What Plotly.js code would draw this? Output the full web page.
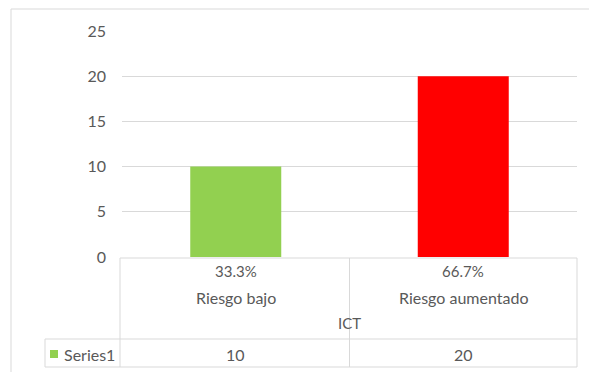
<!DOCTYPE html>
<html>
<head>
<meta charset="utf-8">
<script src="https://cdn.plot.ly/plotly-3.0.1.min.js"></script>
<style>html,body{margin:0;padding:0;background:#fff}#chart{width:589px;height:372px}</style>
</head>
<body>
<div id="chart"></div>
<script>
// ---- data ----
const categories = ['Riesgo bajo', 'Riesgo aumentado'];
const values = [10, 20];
const pctLabels = ['33.3%', '66.7%'];
const seriesName = 'Series1';
const axisTitle = 'ICT';
const yTicks = [0, 5, 10, 15, 20, 25];
const barColors = ['#92d050', '#ff0000'];

// ---- layout geometry (pixels) ----
const W = 589, H = 372;
const L = 122, R = 577, T = 31, B = 257;
const pw = R - L, ph = B - T;
const px = x => (x - L) / pw;
const py = y => (B - y) / ph;
const grey = '#d9d9d9';
const txt = '#595959';
const font = 'Lato, "Open Sans", sans-serif';

const xs = categories.map((c, i) => i);

const trace = {
  type: 'bar',
  x: xs,
  y: values,
  name: seriesName,
  marker: {color: barColors, line: {width: 0}},
  width: 0.4,
  hoverinfo: 'none'
};

const shapes = [];
const line = (x0, y0, x1, y1) => shapes.push({type: 'line', xref: 'paper', yref: 'paper',
  x0: px(x0), y0: py(y0), x1: px(x1), y1: py(y1), line: {color: grey, width: 1}});
// outer chart border
line(11, 9, 600, 9);
line(11, 9, 11, 380);
// table
line(L - 2, 258, R, 258);
line(L - 2, 258, L - 2, 367);
line(R, 258, R, 367);
line(45, 339, R, 339);
line(45, 367, R, 367);
line(45, 339, 45, 367);
// category separators (middle between categories)
for (let i = 0; i < categories.length - 1; i++) {
  shapes.push({type: 'line', xref: 'x', yref: 'paper', x0: i + 0.5, x1: i + 0.5,
    y0: py(258), y1: py(367), line: {color: grey, width: 1}});
}
// legend key
shapes.push({type: 'rect', xref: 'paper', yref: 'paper', x0: px(50), x1: px(58), y0: py(350), y1: py(358),
  fillcolor: barColors[0], line: {width: 0}});

const annotations = [];
const f = (s) => ({family: font, size: s, color: txt});
categories.forEach((c, i) => {
  annotations.push({xref: 'x', yref: 'paper', x: i, y: py(271), text: pctLabels[i], showarrow: false, font: f(15), yanchor: 'middle'});
  annotations.push({xref: 'x', yref: 'paper', x: i, y: py(297), text: c, showarrow: false, font: f(16), yanchor: 'middle'});
  annotations.push({xref: 'x', yref: 'paper', x: i, y: py(354), text: String(values[i]), showarrow: false, font: f(16), yanchor: 'middle'});
});
annotations.push({xref: 'paper', yref: 'paper', x: 0.5, y: py(323), text: axisTitle, showarrow: false, font: f(15), yanchor: 'middle'});
annotations.push({xref: 'paper', yref: 'paper', x: px(62), y: py(354), text: seriesName, showarrow: false, font: f(16), xanchor: 'left', yanchor: 'middle'});

const layout = {
  width: W, height: H,
  margin: {l: L, r: W - R, t: T, b: H - B, pad: 0},
  paper_bgcolor: '#ffffff',
  plot_bgcolor: '#ffffff',
  showlegend: false,
  bargap: 0.6,
  xaxis: {range: [-0.5, categories.length - 0.5], showticklabels: false, showgrid: false, zeroline: false, showline: false, ticks: ''},
  yaxis: {range: [0, 25], tickvals: yTicks, ticktext: yTicks.map(String), showgrid: true, gridcolor: grey, gridwidth: 1,
    zeroline: false, showline: false, ticks: '', ticklabelstandoff: 15, tickfont: f(16)},
  shapes: shapes,
  annotations: annotations
};

Plotly.newPlot('chart', [trace], layout, {staticPlot: true, displayModeBar: false});
</script>
</body>
</html>
